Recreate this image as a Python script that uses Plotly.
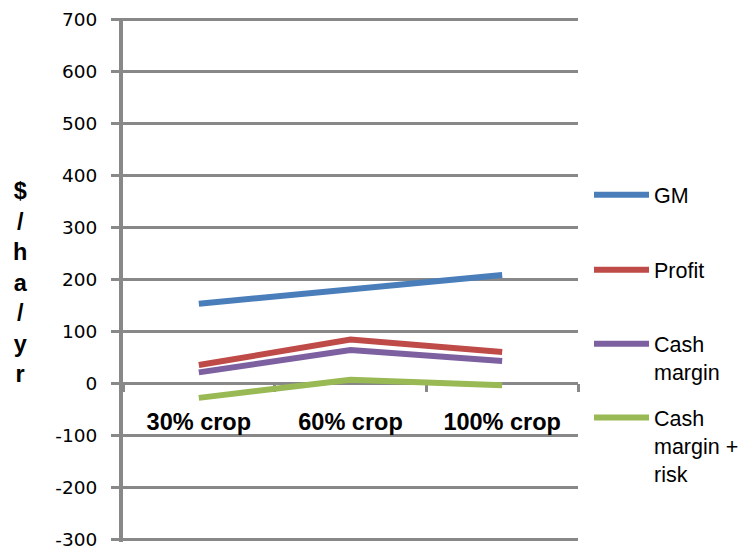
import plotly.graph_objects as go

# Scenario categories and series values ($/ha/yr)
categories = ["30% crop", "60% crop", "100% crop"]
gm = [153, 181, 208]
profit = [35, 84, 60]
cash_margin = [21, 64, 43]
cash_margin_risk = [-28, 7, -4]

series_names = ["GM", "Profit", "Cash<br>margin", "Cash<br>margin +<br>risk"]
series_values = [gm, profit, cash_margin, cash_margin_risk]
series_colors = ["#4a7ebb", "#be4b48", "#7d60a0", "#98b954"]
legend_ids = ["legend", "legend2", "legend3", "legend4"]

y_ticks = list(range(-300, 701, 100))
y_tick_text = [str(v) for v in y_ticks]  # plain hyphen for negatives

GRID = "#888888"
W, H = 750, 549
M_L, M_R, M_T, M_B = 123, 172, 17.5, 6.9

fig = go.Figure()
for name, vals, col, lg in zip(series_names, series_values, series_colors, legend_ids):
    fig.add_trace(go.Scatter(
        x=categories, y=vals, mode="lines", name=name,
        line=dict(color=col, width=6), legend=lg,
    ))

plot_h = H - M_T - M_B
ymin, ymax = -305, 702
zero_pos = (0 - ymin) / (ymax - ymin)


def legend_box(first_line_px):
    return dict(
        x=(589 - M_L) / (W - M_L - M_R),
        y=(H - M_B - first_line_px + 21) / plot_h,
        xanchor="left", yanchor="top", valign="top",
        bgcolor="rgba(0,0,0,0)", itemwidth=55,
        font=dict(family="Liberation Sans, Arial, sans-serif", size=21.5, color="#000000"),
    )


fig.update_layout(
    width=W, height=H,
    margin=dict(l=M_L, r=M_R, t=M_T, b=M_B, autoexpand=False),
    paper_bgcolor="white", plot_bgcolor="white",
    showlegend=True,
    legend=legend_box(195),
    legend2=legend_box(270),
    legend3=legend_box(344),
    legend4=legend_box(418),
    xaxis=dict(
        type="category", range=[-0.5, 2.5],
        anchor="free", position=zero_pos,
        showgrid=False, zeroline=False, showline=False,
        ticks="outside", tickson="boundaries", ticklen=8,
        tickwidth=3, tickcolor=GRID,
        ticklabelstandoff=22,
        tickfont=dict(family="Liberation Sans, Arial, sans-serif", size=23.5, color="#000000",
                      weight="bold"),
        layer="below traces",
    ),
    yaxis=dict(
        range=[ymin, ymax], tickvals=y_ticks, ticktext=y_tick_text,
        showgrid=True, gridcolor=GRID, gridwidth=3,
        zeroline=False,
        showline=True, linecolor=GRID, linewidth=4,
        ticks="outside", ticklen=8, tickwidth=3, tickcolor=GRID,
        ticklabelstandoff=10, ticklabeloverflow="allow",
        tickfont=dict(family="DejaVu Sans, sans-serif", size=18.5, color="#000000"),
        layer="below traces",
    ),
    annotations=[dict(
        text="<b>$<br>/<br>h<br>a<br>/<br>y<br>r</b>",
        xref="paper", yref="paper",
        x=(20 - M_L) / (W - M_L - M_R), y=(H - M_B - 282) / plot_h,
        xanchor="center", yanchor="middle", showarrow=False,
        font=dict(family="Liberation Sans, Arial, sans-serif", size=23.5, color="#000000"),
    )],
)

fig.write_html("out.html")
